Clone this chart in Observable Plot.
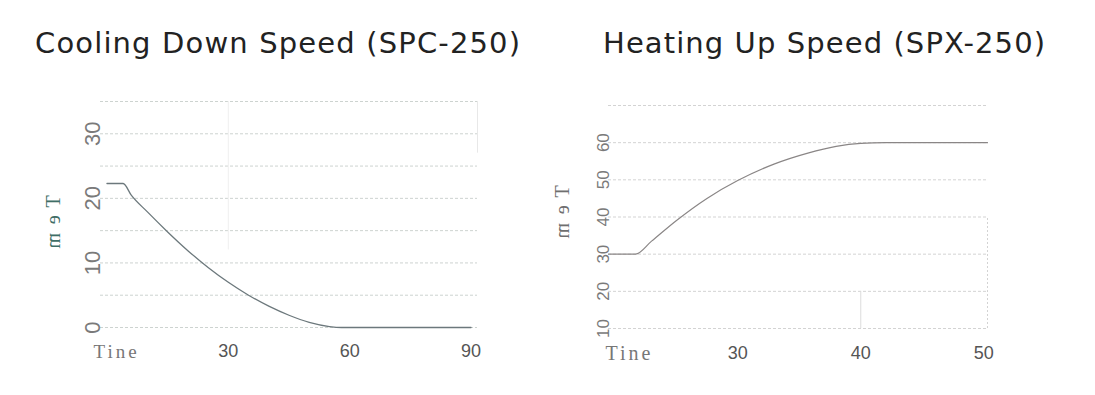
<!DOCTYPE html>
<html><head><meta charset="utf-8">
<script src="https://cdn.jsdelivr.net/npm/d3@7"></script>
<script src="https://cdn.jsdelivr.net/npm/@observablehq/plot@0.6"></script>
<style>
body{margin:0;background:#fff;}
#root{position:relative;width:1095px;height:395px;overflow:hidden;background:#fff;}
.chart{position:absolute;}
.tem{position:absolute;font-family:"Liberation Serif",serif;font-size:20px;letter-spacing:9px;padding-left:9px;white-space:nowrap;line-height:1;transform:translate(-50%,-50%) matrix(0,1,1,0,0,0);}
.tine text{letter-spacing:3px;}
#titles{position:absolute;left:0;top:0;}
</style></head><body><div id="root"></div>
<script>
// Cooling Down Speed (SPC-250)
const coolTime = [0, 4, 6, 10, 15, 20, 25, 30, 35, 40, 45, 50, 55, 58, 90];
const coolTemp = [22.3, 22.3, 20.5, 17.9, 14.8, 11.9, 9.3, 7.0, 5.0, 3.3, 1.9, 0.8, 0.15, 0, 0];
const coolXTicks = [30, 60, 90];
const coolYTicks = [0, 10, 20, 30];
const coolGrid = [0, 5, 10, 15, 20, 25, 30, 35];
// Heating Up Speed (SPX-250)
const heatTime = [19.5, 21.7, 23, 25, 27.5, 30, 33, 35.7, 38, 40, 42, 50.3];
const heatTemp = [30, 30, 33.5, 39, 45, 49.8, 54.3, 57.2, 59, 59.8, 60, 60];
const heatXTicks = [30, 40, 50];
const heatYTicks = [10, 20, 30, 40, 50, 60];
const heatGrid = [10, 20, 30, 40, 50, 60, 70];
const titles = ["Cooling Down Speed (SPC-250)", "Heating Up Speed (SPX-250)"];
const yLabel = "Tem";
const xLabel = "Tine";

const root = document.getElementById("root");
const serif = "'Liberation Serif', 'DejaVu Serif', serif";
const sans = "'Liberation Sans', Arial, sans-serif";

const cool = coolTime.map((t, i) => ({t, v: coolTemp[i]}));
const heat = heatTime.map((t, i) => ({t, v: heatTemp[i]}));

const left = Plot.plot({
  width: 500, height: 300,
  marginLeft: 100, marginRight: 23, marginTop: 21, marginBottom: 53,
  x: {domain: [-1.6, 91.6], axis: null},
  y: {domain: [0, 35], axis: null},
  style: {background: "transparent", overflow: "visible"},
  marks: [
    Plot.ruleY(coolGrid, {stroke: "#cdd3d0", strokeDasharray: "3,2", strokeWidth: 1}),
    Plot.ruleX([30], {y1: 12, y2: 35, stroke: "#efefef"}),
    Plot.ruleX([91.6], {y1: 27, y2: 35, stroke: "#e8e8e8"}),
    Plot.line(cool, {x: "t", y: "v", curve: "monotone-x", stroke: "#6c787c", strokeWidth: 1.3}),
    Plot.text(coolYTicks, {y: d => d, text: d => String(d), frameAnchor: "left", textAnchor: "middle", lineAnchor: "middle", dx: -8, rotate: -90, fontSize: 22, fill: "#7a7a7a", fontFamily: sans}),
    Plot.text(coolXTicks, {x: d => d, text: d => String(d), frameAnchor: "bottom", textAnchor: "middle", lineAnchor: "middle", dy: 24, fontSize: 18, fill: "#555", fontFamily: sans}),
    Plot.text([xLabel], {text: d => d, className: "tine", frameAnchor: "bottom-left", textAnchor: "start", lineAnchor: "middle", dx: -7, dy: 24, fontSize: 19, fill: "#777", fontFamily: serif})
  ]
});
left.classList.add("chart");
left.style.left = "0px"; left.style.top = "80px";
root.appendChild(left);

const right = Plot.plot({
  width: 480, height: 280,
  marginLeft: 68, marginRight: 33, marginTop: 5, marginBottom: 52,
  x: {domain: [19.5, 50.3], axis: null},
  y: {domain: [10, 70], axis: null},
  style: {background: "transparent", overflow: "visible"},
  marks: [
    Plot.ruleY(heatGrid, {stroke: "#d3d3d3", strokeDasharray: "3,2", strokeWidth: 1}),
    Plot.ruleX([40], {y1: 10, y2: 20, stroke: "#dcdcdc"}),
    Plot.ruleX([50.3], {y1: 10, y2: 40, stroke: "#d3d3d3", strokeDasharray: "2,2"}),
    Plot.line(heat, {x: "t", y: "v", curve: "monotone-x", stroke: "#8a8686", strokeWidth: 1.2}),
    Plot.text(heatYTicks, {y: d => d, text: d => String(d), frameAnchor: "left", textAnchor: "middle", lineAnchor: "middle", dx: -5, rotate: -90, fontSize: 17, fill: "#7a7a7a", fontFamily: sans}),
    Plot.text(heatXTicks, {x: d => d, text: d => String(d), frameAnchor: "bottom", textAnchor: "middle", lineAnchor: "middle", dy: 25, fontSize: 18, fill: "#555", fontFamily: sans}),
    Plot.text([xLabel], {text: d => d, className: "tine", frameAnchor: "bottom-left", textAnchor: "start", lineAnchor: "middle", dx: -3, dy: 25, fontSize: 20, fill: "#777", fontFamily: serif})
  ]
});
right.classList.add("chart");
right.style.left = "540px"; right.style.top = "100px";
root.appendChild(right);

// Titles
const ns = "http://www.w3.org/2000/svg";
const tsvg = document.createElementNS(ns, "svg");
tsvg.setAttribute("id", "titles");
tsvg.setAttribute("width", 1095); tsvg.setAttribute("height", 80);
[[35, 53, 485, titles[0]], [603, 53, 442, titles[1]]].forEach(([x, y, w, s]) => {
  const t = document.createElementNS(ns, "text");
  t.setAttribute("x", x); t.setAttribute("y", y);
  t.setAttribute("textLength", w); t.setAttribute("lengthAdjust", "spacing");
  t.setAttribute("font-family", "'DejaVu Sans', sans-serif");
  t.setAttribute("font-size", 29);
  t.setAttribute("fill", "#222");
  t.textContent = s;
  tsvg.appendChild(t);
});
root.appendChild(tsvg);

// Mirrored vertical "Tem" labels
[[53, 222, "#3f6e66"], [562, 212, "#6f6f6f"]].forEach(([x, y, c]) => {
  const d = document.createElement("div");
  d.className = "tem";
  d.style.left = x + "px"; d.style.top = y + "px"; d.style.color = c;
  d.textContent = yLabel;
  root.appendChild(d);
});
</script></body></html>
